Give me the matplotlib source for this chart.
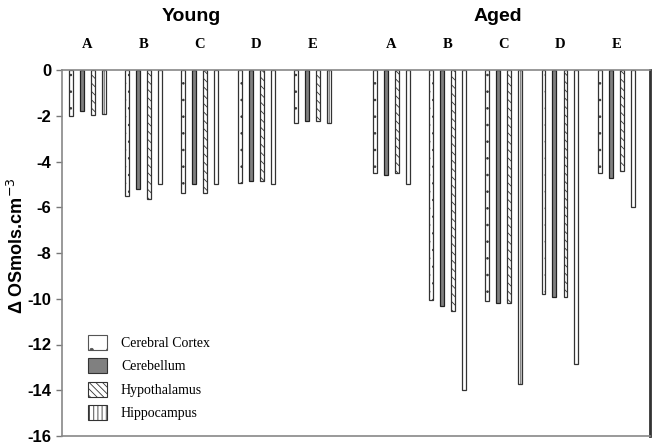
import matplotlib
matplotlib.use("Agg")
import matplotlib.pyplot as plt
from matplotlib.patches import Patch
import numpy as np

plt.rcParams['hatch.linewidth'] = 0.6

categories = ["A", "B", "C", "D", "E"]
groups = ["Young", "Aged"]
regions = ["Cerebral Cortex", "Cerebellum", "Hypothalamus", "Hippocampus"]

young_cortex = [-2.0, -5.5, -5.37, -4.93, -2.32]
young_cerebellum = [-1.8, -5.22, -5.0, -4.84, -2.21]
young_hypothalamus = [-1.95, -5.63, -5.37, -4.84, -2.21]
young_hippocampus = [-1.93, -5.0, -5.0, -5.0, -2.32]

aged_cortex = [-4.49, -10.04, -10.12, -9.81, -4.49]
aged_cerebellum = [-4.59, -10.32, -10.2, -9.93, -4.72]
aged_hypothalamus = [-4.49, -10.54, -10.2, -9.93, -4.42]
aged_hippocampus = [-4.99, -14.0, -13.73, -12.85, -6.0]

yticks = [0, -2, -4, -6, -8, -10, -12, -14, -16]

young = [young_cortex, young_cerebellum, young_hypothalamus, young_hippocampus]
aged = [aged_cortex, aged_cerebellum, aged_hypothalamus, aged_hippocampus]

styles = [
    dict(facecolor="white", hatch="..", edgecolor="#333333"),
    dict(facecolor="#808080", hatch="", edgecolor="#222222"),
    dict(facecolor="white", hatch="\\\\\\\\", edgecolor="#333333"),
    dict(facecolor="white", hatch="||", edgecolor="#333333"),
]

fig = plt.figure(figsize=(6.56, 4.46), dpi=100)
ax = fig.add_axes([62/656, 1-436/446, (650-62)/656, (436-70)/446])

young_x = np.arange(5) * 1.0
aged_x = np.arange(5) * 1.0 + 5.4
offsets = [-0.293, -0.098, 0.098, 0.293]
w = 0.07

for i in range(4):
    ax.bar(young_x + offsets[i], young[i], width=w, linewidth=0.9, **styles[i])
    ax.bar(aged_x + offsets[i], aged[i], width=w, linewidth=0.9, **styles[i])

ax.set_xlim(-0.45, 10.0)
ax.set_ylim(-16, 0)
ax.set_yticks(yticks)
ax.set_yticklabels([str(t) for t in yticks], fontsize=12, fontweight="bold", family="Liberation Sans")
ax.set_xticks([])
ax.tick_params(axis="y", length=4, color="#777777", width=1)

for s in ["left", "bottom", "top"]:
    ax.spines[s].set_color("#888888")
    ax.spines[s].set_linewidth(1.2)
ax.spines["right"].set_color("#333333")
ax.spines["right"].set_linewidth(2)

for xs in (young_x, aged_x):
    for x, c in zip(xs, categories):
        ax.text(x, 1.1, c, ha="center", va="center", fontsize=10.5, fontweight="bold",
                family="Liberation Serif", transform=ax.transData, clip_on=False)

ax.text(np.mean(young_x) - 0.15, 2.35, groups[0], ha="center", va="center", fontsize=14,
        fontweight="bold", family="Liberation Sans", clip_on=False)
ax.text(np.mean(aged_x) - 0.1, 2.35, groups[1], ha="center", va="center", fontsize=14,
        fontweight="bold", family="Liberation Sans", clip_on=False)

fig.text(17/656, 1-246/446, "Δ OSmols.cm$^{-3}$", rotation=90, ha="center", va="center",
         fontsize=13, fontweight="bold", family="Liberation Sans")

handles = [
    Patch(facecolor="white", hatch=".", edgecolor="#555555", linewidth=0.8),
    Patch(facecolor="#808080", edgecolor="#333333", linewidth=0.8),
    Patch(facecolor="white", hatch="\\\\\\\\\\", edgecolor="#333333", linewidth=0.8),
    Patch(facecolor="white", hatch="||||", edgecolor="#333333", linewidth=0.8),
]
leg = fig.legend(handles, regions, loc="upper left", bbox_to_anchor=(82/656, 1-329/446),
                 frameon=False, prop={"family": "Liberation Serif", "size": 10},
                 handlelength=1.4, handleheight=1.3, labelspacing=0.6, handletextpad=1.0,
                 borderaxespad=0)

fig.savefig("out.png", dpi=100)
